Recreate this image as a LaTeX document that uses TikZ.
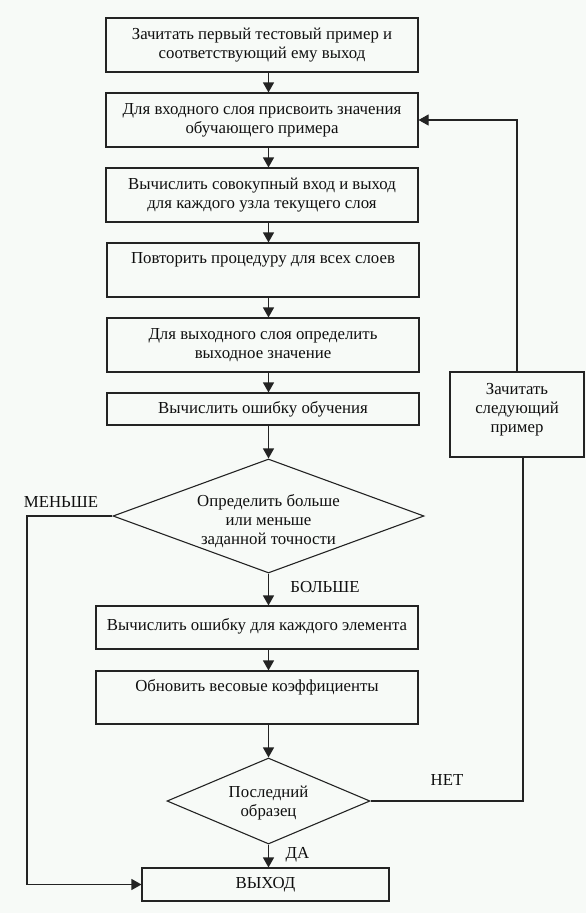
\documentclass[tikz,border=0pt]{standalone}
\usepackage{fontspec}
\setmainfont{Liberation Serif}
\usetikzlibrary{shapes.geometric,arrows.meta}
\definecolor{bg}{RGB}{247,250,247}
\definecolor{ln}{RGB}{35,35,35}
\definecolor{tx}{RGB}{15,15,15}
\tikzset{
  box/.style={draw=ln, line width=1.1pt, fill=bg, minimum width=312pt, minimum height=54pt, inner sep=0pt, align=center, text=tx, font=\fontsize{16.8}{19}\selectfont},
  dia/.style={draw=ln, line width=1.1pt, fill=bg, diamond, inner sep=0pt},
  lbl/.style={inner sep=0pt, align=center, text=tx, font=\fontsize{16.8}{19}\selectfont},
  arr/.style={draw=ln, line width=1.1pt, -{Triangle[width=11pt,length=10pt]}},
  ln/.style={draw=ln, line width=1.1pt}
}
\begin{document}
\begin{tikzpicture}[x=1pt,y=-1pt]
\fill[bg] (0,0) rectangle (586,913);
\useasboundingbox (0,0) rectangle (586,913);
\node[box] (b1) at (262,45) {Зачитать первый тестовый пример и\\соответствующий ему выход};
\node[box] (b2) at (262,120) {Для входного слоя присвоить значения\\обучающего примера};
\node[box] (b3) at (262,195) {Вычислить совокупный вход и выход\\для каждого узла текущего слоя};
\node[box, text height=11pt, text depth=25pt] (b4) at (263,270) {Повторить процедуру для всех слоев};
\node[box] (b5) at (263,345) {Для выходного слоя определить\\выходное значение};
\node[box, minimum height=32pt] (b6) at (263,409) {Вычислить ошибку обучения};
\node[dia, minimum width=311pt, minimum height=114pt] (d1) at (268.5,516) {};
\node[lbl] (d1t) at (268.5,521) {Определить больше\\или меньше\\заданной точности};
\node[box, minimum width=322pt, minimum height=43pt, text height=11pt, text depth=6pt] (b7) at (257,627.5) {Вычислить ошибку для каждого элемента};
\node[box, minimum width=322pt, minimum height=53pt, text height=11pt, text depth=24pt] (b8) at (257,697.5) {Обновить весовые коэффициенты};
\node[dia, minimum width=203pt, minimum height=86pt] (d2) at (268.5,801) {};
\node[lbl] (d2t) at (268.5,803.5) {Последний\\образец};
\node[box, minimum width=247pt, minimum height=33pt] (ex) at (265.5,884.5) {ВЫХОД};
\node[box, minimum width=134pt, minimum height=85pt, text depth=14pt] (nx) at (517,414.5) {Зачитать\\следующий\\пример};
\node[lbl] (lm) at (61,502) {МЕНЬШЕ};
\node[lbl] (lb) at (325,587) {БОЛЬШЕ};
\node[lbl] (ln) at (447,780) {НЕТ};
\node[lbl] (ld) at (297.5,855) {ДА};
\coordinate (L) at (27,0);
\draw[arr] (b1.south -| d1.north) -- (b2.north -| d1.north);
\draw[arr] (b2.south -| d1.north) -- (b3.north -| d1.north);
\draw[arr] (b3.south -| d1.north) -- (b4.north -| d1.north);
\draw[arr] (b4.south -| d1.north) -- (b5.north -| d1.north);
\draw[arr] (b5.south -| d1.north) -- (b6.north -| d1.north);
\draw[arr] (b6.south -| d1.north) -- (d1.north);
\draw[arr] (d1.south) -- (b7.north -| d1.south);
\draw[arr] (b7.south -| d1.south) -- (b8.north -| d1.south);
\draw[arr] (b8.south -| d2.north) -- (d2.north);
\draw[arr] (d2.south) -- (ex.north -| d2.south);
\draw[arr] (d1.west) -- (d1.west -| L) -- (ex.west -| L) -- (ex.west);
\draw[arr] (nx.north) -- (nx.north |- b2.east) -- (b2.east);
\draw[ln] (d2.east) -- ([xshift=6pt]nx.south |- d2.east) -- ([xshift=6pt]nx.south);
\end{tikzpicture}
\end{document}
